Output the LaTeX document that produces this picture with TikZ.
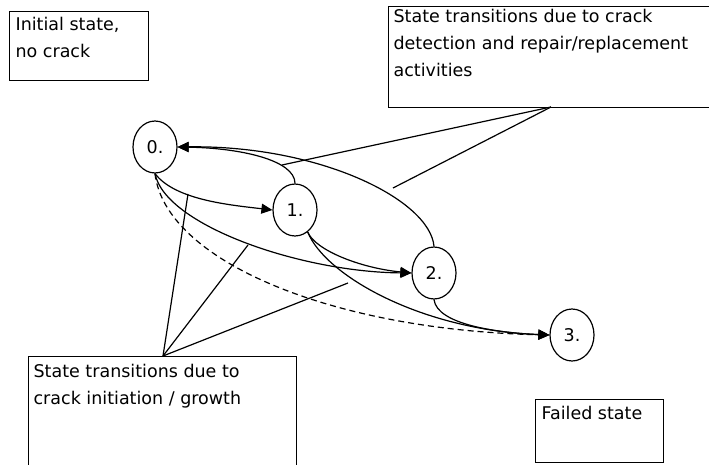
\documentclass[tikz,border=0pt]{standalone}
\usepackage{fontspec}
\setmainfont{DejaVu Sans}
\usepackage{tikz}
\usetikzlibrary{shapes,arrows.meta}

\begin{document}
\begin{tikzpicture}[x=1pt, y=-1pt, line width=1.2pt,
    every node/.style={font=\fontsize{17.5}{27}\selectfont},
    estado/.style={ellipse, draw, minimum width=44pt, minimum height=52pt, inner sep=0pt},
    caja/.style={rectangle, draw, anchor=north west, inner sep=0pt},
    texto/.style={anchor=north west, align=left, inner sep=0pt},
    flecha/.style={-{Triangle[length=11pt,width=10pt]}}]
    \clip (0,0) rectangle (709,465);

    % Estados
    \node[estado] (s0) at (155,147) {0.};
    \node[estado] (s1) at (295,210) {1.};
    \node[estado] (s2) at (434,273) {2.};
    \node[estado] (s3) at (572,335) {3.};

    % Cajas de texto
    \node[caja, minimum width=139pt, minimum height=69pt] (ini) at (9,11) {};
    \node[texto] (tini) at (15,17) {Initial state,\\no crack};
    \node[caja, minimum width=330pt, minimum height=101pt] (rep) at (388,6) {};
    \node[texto] (trep) at (393,9) {State transitions due to crack\\detection and repair/replacement\\activities};
    \node[caja, minimum width=268pt, minimum height=120pt] (grow) at (28,356) {};
    \node[texto] (tgrow) at (33,364) {State transitions due to\\crack initiation / growth};
    \node[caja, minimum width=128pt, minimum height=63pt] (fail) at (535,399) {};
    \node[texto] (tfail) at (541,406) {Failed state};

    % Transiciones por crecimiento
    \draw[flecha] (s0.south) .. controls (175,200) and (230,205) .. (s1.west);
    \draw[flecha] (s0.south) .. controls (165,225) and (300,272) .. (s2.west);
    \draw[flecha, dash pattern=on 6pt off 4pt] (s0.south) .. controls (165,260) and (330,330) .. (s3.west);
    \draw[flecha] (s1.-60) .. controls (315,250) and (360,268) .. (s2.west);
    \draw[flecha] (s1.-60) .. controls (325,275) and (420,330) .. (s3.west);
    \draw[flecha] (s2.south) .. controls (437,325) and (500,333) .. (s3.west);

    % Transiciones por reparacion
    \draw[flecha] (s1.north) .. controls (295,160) and (240,148) .. (s0.east);
    \draw[flecha] (s2.north) .. controls (430,200) and (320,145) .. (s0.east);

    % Lineas de las notas
    \coordinate (prep) at (551,107);
    \coordinate (pgrow) at (163,356);
    \coordinate (c10) at (282,165);
    \coordinate (c20) at (393,188);
    \coordinate (c01) at (188,194);
    \coordinate (c02) at (248,245);
    \coordinate (c13) at (348,283);
    \draw (prep) -- (c10);
    \draw (prep) -- (c20);
    \draw (pgrow) -- (c01);
    \draw (pgrow) -- (c02);
    \draw (pgrow) -- (c13);
\end{tikzpicture}
\end{document}
